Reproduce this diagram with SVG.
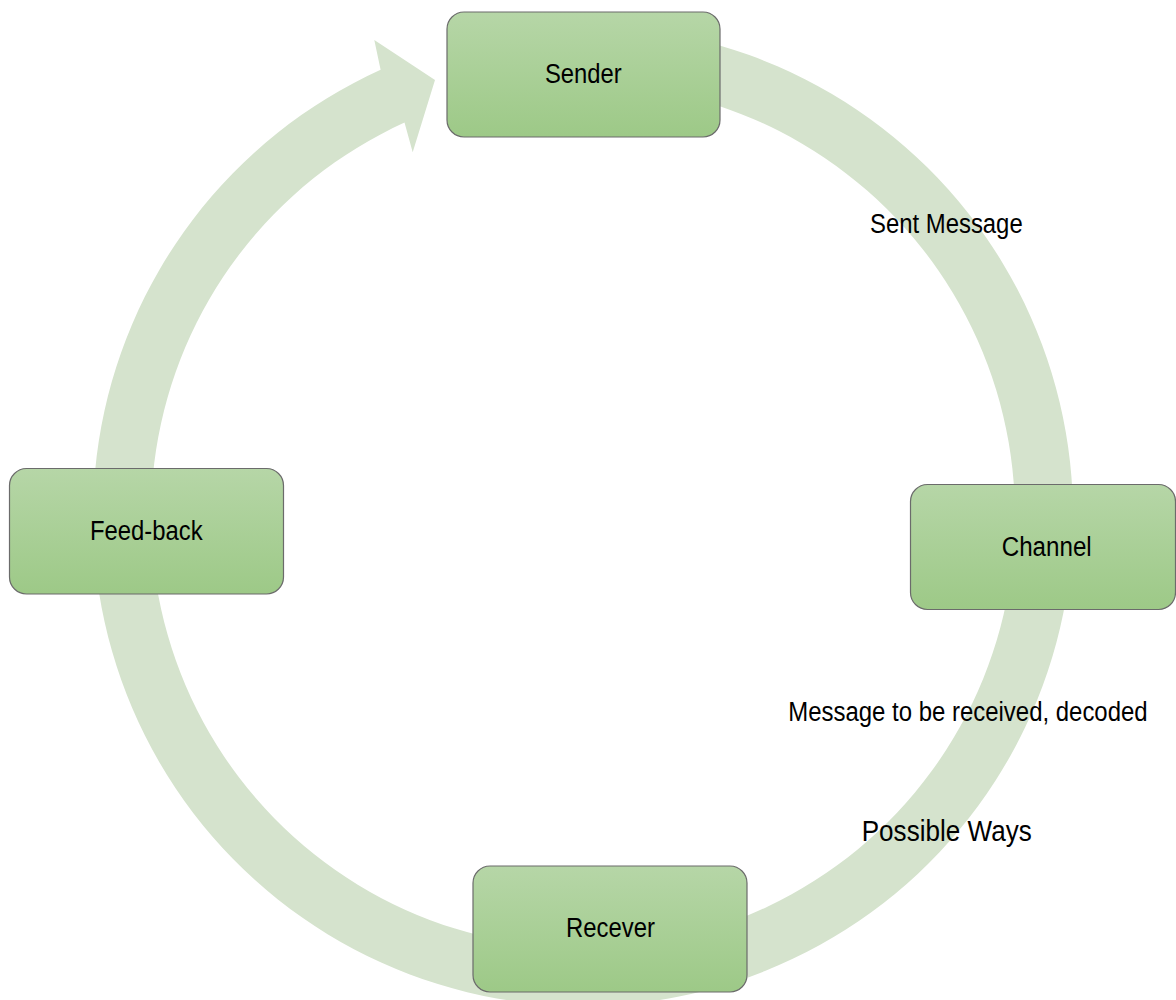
<svg xmlns="http://www.w3.org/2000/svg" width="1176" height="1000" viewBox="0 0 1176 1000">
  <defs>
    <linearGradient id="boxFill" x1="0" y1="0" x2="0" y2="1">
      <stop offset="0" stop-color="#b6d6a7"/>
      <stop offset="1" stop-color="#9dc987"/>
    </linearGradient>
    <style>
      .box { fill: url(#boxFill); stroke: #6b6b6b; stroke-width: 1.2; }
      .lbl { font-family: "Liberation Sans", Arial, sans-serif; font-size: 27px; fill: #000; }
      .mid { text-anchor: middle; }
      .ring { fill: #d5e3cd; stroke: none; }
    </style>
  </defs>
  <rect width="1176" height="1000" fill="#ffffff"/>

  <!-- circular arrow: ring from under Sender, clockwise round to the head pointing at Sender -->
  <g id="connectors">
    <path class="ring" d="M 540.3 27.9 A 490 490 0 1 1 380.6 69.8 L 374.3 40 L 435 80 L 412.7 152.3 L 404.5 122.6 A 432 432 0 1 0 545.35 85.65 Z"/>
  </g>

  <!-- edge labels (narrow type: horizontal scale 0.87) -->
  <g id="labels">
    <text class="lbl" transform="scale(0.87 1)" x="1000" y="233.3" textLength="175.5" lengthAdjust="spacingAndGlyphs">Sent Message</text>
    <text class="lbl" transform="scale(0.87 1)" x="906.1" y="721" textLength="413" lengthAdjust="spacingAndGlyphs">Message to be received, decoded</text>
    <text class="lbl" transform="scale(0.87 1)" x="990.5" y="841" style="font-size:29px" textLength="195.4" lengthAdjust="spacingAndGlyphs">Possible Ways</text>
  </g>

  <g id="sender">
    <rect class="box" x="447" y="12" width="273" height="125" rx="17" ry="17"/>
    <text class="lbl mid" transform="scale(0.87 1)" x="670.5" y="83.3" textLength="88.2" lengthAdjust="spacingAndGlyphs">Sender</text>
  </g>

  <g id="channel">
    <rect class="box" x="910.5" y="484.5" width="265" height="125" rx="17" ry="17"/>
    <text class="lbl mid" transform="scale(0.87 1)" x="1203.1" y="556" textLength="103.4" lengthAdjust="spacingAndGlyphs">Channel</text>
  </g>

  <g id="receiver">
    <rect class="box" x="473" y="866" width="274" height="126" rx="17" ry="17"/>
    <text class="lbl mid" transform="scale(0.87 1)" x="701.7" y="937.3" textLength="102.3" lengthAdjust="spacingAndGlyphs">Recever</text>
  </g>

  <g id="feedback">
    <rect class="box" x="9.5" y="468.5" width="274" height="125.5" rx="17" ry="17"/>
    <text class="lbl mid" transform="scale(0.87 1)" x="168.2" y="540" textLength="129.5" lengthAdjust="spacingAndGlyphs">Feed-back</text>
  </g>
</svg>
